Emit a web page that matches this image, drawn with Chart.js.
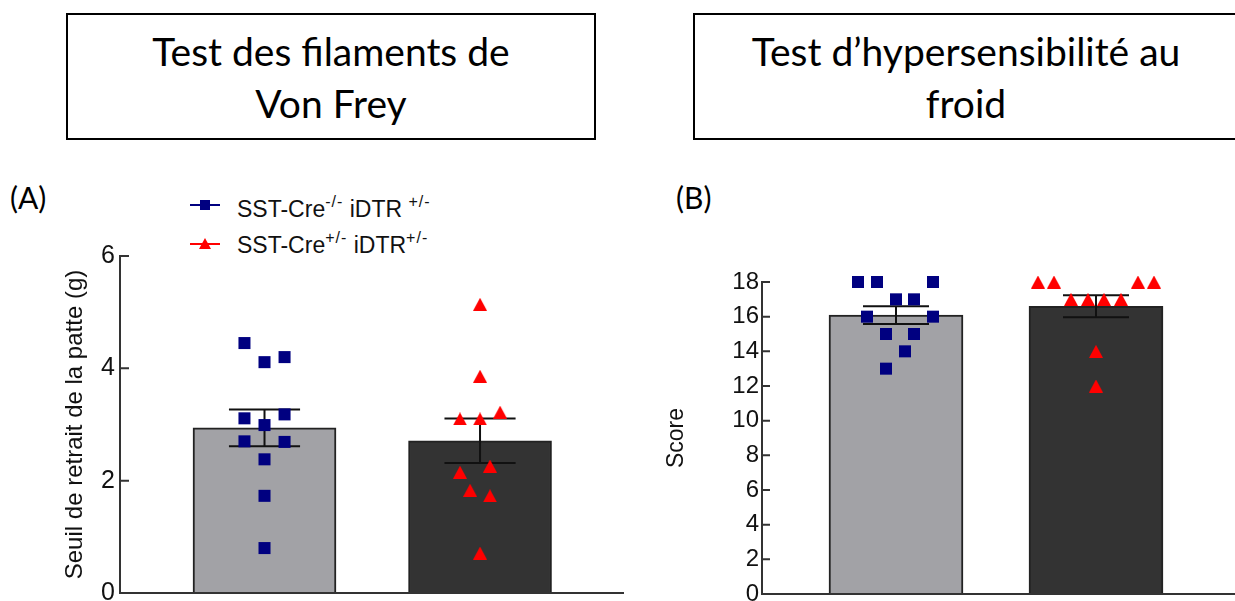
<!DOCTYPE html>
<html>
<head>
<meta charset="utf-8">
<script src="https://cdn.jsdelivr.net/npm/chart.js@4"></script>
<style>
    body { margin: 0; width: 1235px; height: 601px; overflow: hidden; background: #fff; position: relative; font-family: "Liberation Sans", Arial, sans-serif; }
    .box { position: absolute; box-sizing: border-box; border: 2px solid #000; text-align: center; font-family: Lato, sans-serif; font-size: 39px; line-height: 52px; color: #000; padding-top: 10px; }
    .panel { position: absolute; font-family: Lato, sans-serif; font-size: 30px; line-height: 36px; color: #000; }
    .leg { position: absolute; left: 190px; font-size: 23px; line-height: 26px; color: #111; white-space: nowrap; }
    .leg .ln { position: absolute; left: 0; width: 30px; height: 2px; }
    .leg .mk { position: absolute; }
    .leg .txt { position: absolute; left: 47px; }
    .leg sup { font-size: 16px; line-height: 0; vertical-align: 0; position: relative; top: -10px; letter-spacing: 1px; }
    .plot { position: absolute; }
</style>
</head>
<body>

<div class="box" style="left:66px;top:13px;width:530px;height:127px">Test des filaments de<br>Von Frey</div>
<div class="box" style="left:693px;top:13px;width:546px;height:127px">Test d’hypersensibilité au<br>froid</div>

<div class="panel" style="left:10px;top:179px">(A)</div>
<div class="panel" style="left:676px;top:179px">(B)</div>

<div class="leg" style="top:193px">
    <div class="ln" style="top:11px;background:#000080"></div>
    <div class="mk" style="left:10px;top:7px;width:10px;height:10px;background:#000080"></div>
    <div class="txt" style="top:3px">SST-Cre<sup>-/-</sup> iDTR <sup>+/-</sup></div>
</div>
<div class="leg" style="top:232px">
    <div class="ln" style="top:11px;background:#ff0000"></div>
    <div class="mk" style="left:9px;top:6px;width:0;height:0;border-left:6px solid transparent;border-right:6px solid transparent;border-bottom:11px solid #ff0000"></div>
    <div class="txt" style="top:0px">SST-Cre<sup>+/-</sup> iDTR<sup>+/-</sup></div>
</div>

<div class="plot" style="left:0;top:236px;width:624px;height:365px"><canvas id="vonFreyChart"></canvas></div>
<div class="plot" style="left:640px;top:262px;width:595px;height:339px"><canvas id="coldChart"></canvas></div>

<script>
// Von Frey: withdrawal threshold (g), one value per animal
const vfControl = [4.45, 4.11, 4.20, 3.11, 2.99, 3.18, 2.70, 2.69, 2.38, 1.73, 0.80];
const vfControlSpread = [-0.093, 0, 0.093, -0.093, 0, 0.093, -0.093, 0.093, 0, 0, 0];
const vfAblated = [5.14, 3.86, 3.22, 3.10, 3.10, 2.26, 2.15, 1.83, 1.73, 0.71];
const vfAblatedSpread = [0, 0, 0.093, -0.093, 0, 0.046, -0.093, -0.046, 0.046, 0];
const vfTicks = [0, 2, 4, 6];

// cold hypersensitivity: score per animal
const coldControl = [18, 18, 18, 17, 17, 16, 16, 15, 15, 14, 13];
const coldControlSpread = [-0.19, -0.095, 0.185, 0, 0.09, -0.145, 0.185, -0.05, 0.09, 0.045, -0.05];
const coldAblated = [18, 18, 18, 18, 17, 17, 17, 17, 14, 12];
const coldAblatedSpread = [-0.29, -0.21, 0.21, 0.29, -0.125, -0.04, 0.04, 0.125, 0, 0];
const coldTicks = [0, 2, 4, 6, 8, 10, 12, 14, 16, 18];

const groups = [1, 2];

function mean(arr) {
    return arr.reduce((a, b) => a + b, 0) / arr.length;
}

function sem(arr) {
    let m = mean(arr);
    let v = arr.reduce((a, b) => a + (b - m) * (b - m), 0) / (arr.length - 1);
    return Math.sqrt(v / arr.length);
}

// triangle marker, centred on its bounding box
function triangleMarker(w, h, color) {
    let c = document.createElement("canvas");
    c.width = w;
    c.height = h;
    let g = c.getContext("2d");
    g.fillStyle = color;
    g.beginPath();
    g.moveTo(w / 2, 0);
    g.lineTo(w, h);
    g.lineTo(0, h);
    g.closePath();
    g.fill();
    return c;
}

const errorBars = {
    id: "errorBars",
    afterDatasetDraw(chart, args) {
        if (args.index !== 0) return;
        let ctx = chart.ctx;
        let xs = chart.scales.x;
        let ys = chart.scales.y;
        let d = chart.data.datasets[0];
        ctx.save();
        ctx.strokeStyle = "#111";
        ctx.lineWidth = 2;
        d.data.forEach((p, i) => {
            let e = d.errors[i];
            let top = ys.getPixelForValue(p.y + e);
            let bot = ys.getPixelForValue(p.y - e);
            let l = xs.getPixelForValue(p.x - 0.165);
            let r = xs.getPixelForValue(p.x + 0.165);
            let cx = xs.getPixelForValue(p.x);
            ctx.beginPath();
            ctx.moveTo(l, top); ctx.lineTo(r, top);
            ctx.moveTo(l, bot); ctx.lineTo(r, bot);
            ctx.moveTo(cx, top); ctx.lineTo(cx, bot);
            ctx.stroke();
        });
        ctx.restore();
    }
};

// x axis line and inward tick marks
const axisLines = {
    id: "axisLines",
    afterDraw(chart, args, opts) {
        let ctx = chart.ctx;
        let a = chart.chartArea;
        let ys = chart.scales.y;
        ctx.save();
        ctx.strokeStyle = "#333";
        ctx.lineWidth = 2;
        ctx.beginPath();
        ctx.moveTo(a.left, a.bottom);
        ctx.lineTo(a.right, a.bottom);
        ys.ticks.forEach(t => {
            let y = ys.getPixelForValue(t.value);
            ctx.moveTo(a.left, y);
            ctx.lineTo(a.left + opts.len, y);
        });
        ctx.stroke();
        ctx.restore();
    }
};

function makeChart(id, cfg) {
    let pts = (vals, spread, g) => vals.map((v, i) => ({ x: g + spread[i], y: v }));
    let tri = triangleMarker(14, 13, "#ff0000");

    return new Chart(document.getElementById(id), {
        type: "bar",
        data: {
            datasets: [
                {
                    data: groups.map((g, i) => ({ x: g, y: mean(cfg.series[i]) })),
                    errors: cfg.series.map(s => sem(s)),
                    backgroundColor: ["#a2a2a6", "#333333"],
                    borderColor: "#222",
                    borderWidth: 2,
                    barThickness: cfg.barWidth,
                    clip: false,
                    order: 2
                },
                {
                    type: "scatter",
                    data: pts(cfg.series[0], cfg.spread[0], groups[0]),
                    pointStyle: "rect",
                    pointRadius: 8.5,
                    backgroundColor: "#000080",
                    borderWidth: 0,
                    clip: false,
                    order: 1
                },
                {
                    type: "scatter",
                    data: pts(cfg.series[1], cfg.spread[1], groups[1]),
                    pointStyle: tri,
                    pointRadius: 7,
                    backgroundColor: "#ff0000",
                    borderWidth: 0,
                    clip: false,
                    order: 1
                }
            ]
        },
        options: {
            responsive: true,
            maintainAspectRatio: false,
            animation: false,
            events: [],
            layout: { padding: cfg.padding, autoPadding: false },
            plugins: {
                legend: { display: false },
                tooltip: { enabled: false },
                axisLines: { len: cfg.tickLen }
            },
            scales: {
                x: {
                    type: "linear",
                    display: false,
                    offset: false,
                    min: cfg.xMin,
                    max: cfg.xMax
                },
                y: {
                    min: 0,
                    max: cfg.ticks[cfg.ticks.length - 1],
                    afterBuildTicks: s => { s.ticks = cfg.ticks.map(v => ({ value: v })); },
                    afterFit: s => {
                        s.width = cfg.axisWidth;
                        s.paddingTop = 0;
                        s.paddingBottom = 0;
                    },
                    grid: { display: false, drawTicks: false },
                    border: { display: true, color: "#333", width: 2 },
                    ticks: {
                        padding: cfg.labelGap,
                        color: "#111",
                        font: { family: "Liberation Sans", size: cfg.tickSize }
                    },
                    title: {
                        display: true,
                        text: cfg.title,
                        color: "#111",
                        font: { family: "Liberation Sans", size: cfg.titleSize },
                        padding: { top: cfg.titleOffset, bottom: 0 }
                    }
                }
            }
        },
        plugins: [errorBars, axisLines]
    });
}

makeChart("vonFreyChart", {
    series: [vfControl, vfAblated],
    spread: [vfControlSpread, vfAblatedSpread],
    ticks: vfTicks,
    title: "Seuil de retrait de la patte (g)",
    titleSize: 24,
    titleOffset: 61,
    tickSize: 25,
    tickLen: 9,
    labelGap: 5,
    axisWidth: 120,
    barWidth: 143,
    xMin: 0.3295,
    xMax: 2.668,
    padding: { top: 20, bottom: 8, left: 0, right: 0 }
});

makeChart("coldChart", {
    series: [coldControl, coldAblated],
    spread: [coldControlSpread, coldAblatedSpread],
    ticks: coldTicks,
    title: "Score",
    titleSize: 23,
    titleOffset: 23,
    tickSize: 24,
    tickLen: 8,
    labelGap: 3,
    axisWidth: 122,
    barWidth: 134,
    xMin: 0.33,
    xMax: 2.695,
    padding: { top: 20, bottom: 7, left: 0, right: 0 }
});
</script>
</body>
</html>
